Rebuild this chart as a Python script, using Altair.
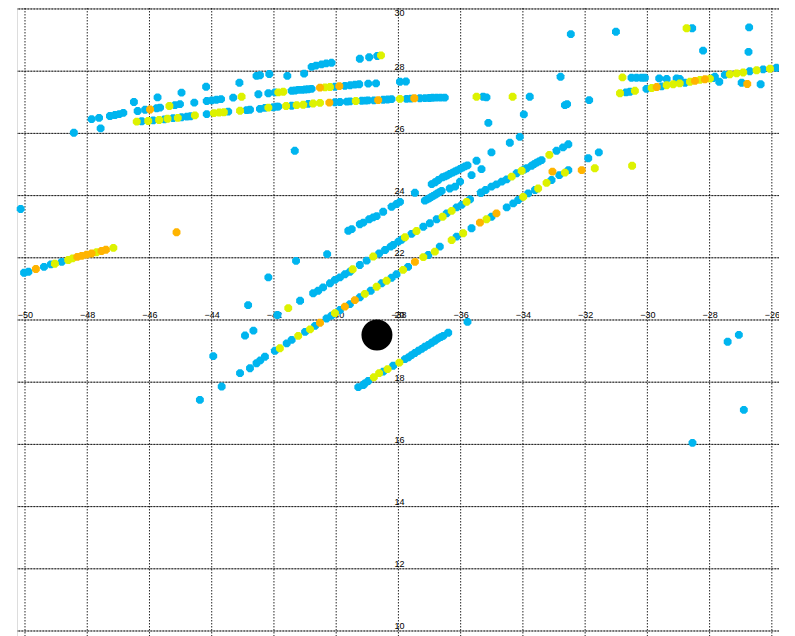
import altair as alt
import pandas as pd

# ---- tick values ----
x_ticks = [-50, -48, -46, -44, -42, -40, -38, -36, -34, -32, -30, -28, -26]
y_ticks = [10, 12, 14, 16, 18, 20, 22, 24, 26, 28, 30]

# ---- cyan points ----
cyan_x = [
    -50.14, -50.03, -49.89, -49.39, -49.17, -48.82,
    -48.43, -47.86, -47.62, -47.57, -47.27, -47.11, -46.97, -46.84, -46.50, -46.38, -46.14,
    -45.77, -45.66, -45.74, -45.18, -45.02, -44.97, -44.56, -44.18, -44.16, -44.00, -43.85,
    -43.70, -43.31, -43.11, -42.56, -42.45, -42.15, -42.50, -42.18,
    -46.25, -45.88, -45.52, -45.24, -44.97, -44.80, -44.68, -44.16, -43.47, -42.88, -42.77,
    -42.45, -42.29, -42.02, -41.86,
    -41.97, -41.43, -41.32, -41.22, -41.10, -41.00, -40.90, -40.79, -40.04, -39.72, -39.55,
    -39.40, -39.26, -38.97, -38.72, -37.95, -37.76,
    -41.57, -41.03, -40.79, -40.65, -40.47, -40.32, -40.15, -39.24, -38.94, -38.68,
    -41.91, -41.43, -40.90, -40.04, -39.88, -39.66, -39.55, -39.18, -39.05, -38.97, -38.79,
    -38.49, -38.35, -38.22, -37.74, -37.60, -37.31, -37.15, -37.01, -36.90, -36.77, -36.64,
    -36.51, -35.28, -35.17,
    -35.11, -33.78, -33.97, -34.10, -32.79, -32.65, -32.58, -32.46, -31.87, -31.01, -41.33,
    -28.56, -26.73, -28.21, -26.75,
    -30.51, -30.35, -30.19, -30.08,
    -30.69, -30.56, -30.03, -29.54, -28.79, -27.89,
    -29.62, -29.38, -29.06, -28.96, -27.69, -27.83,
    -27.51, -26.71, -26.28, -25.85, -26.97, -26.36,
    -39.61, -39.50, -39.24, -39.13, -38.94, -38.81, -38.70, -38.49, -38.22, -38.06, -37.95,
    -37.47, -37.15, -37.08, -37.01, -36.95, -36.88, -36.81, -36.75, -36.68, -36.61, -36.35,
    -36.18, -36.02, -36.93, -36.82, -36.72, -36.58, -36.50, -36.43, -36.35, -36.26, -36.18,
    -36.11, -36.02, -35.94, -35.86, -35.78, -35.65, -35.49, -35.33, -35.35, -35.01, -34.42,
    -42.18, -41.29, -40.29, -42.83, -42.93, -42.66, -43.68, -41.89, -43.95, -44.38,
    -35.78, -27.42, -27.06, -26.90, -28.55,
    -41.16, -40.74, -40.58, -40.42, -40.20, -40.04, -39.88, -39.72, -39.56, -39.24, -39.02,
    -38.62, -38.43, -38.25, -38.17, -38.00, -37.90, -37.58, -37.20, -36.99, -36.77,
    -36.45, -36.13, -35.97, -35.70, -35.35, -35.20, -35.01, -34.85, -34.68, -34.52, -34.20,
    -33.96, -33.88, -33.72, -33.64, -33.56, -33.48, -33.40, -32.92, -32.71, -32.54,
    -43.09, -42.77, -42.56, -42.44, -42.29, -41.97, -41.59, -41.43, -41.00, -40.68, -40.31,
    -40.15, -39.88, -39.56, -39.24, -38.89, -38.54, -38.22, -38.06, -37.69, -37.04, -36.67,
    -36.13, -35.65, -35.01, -34.52, -34.31, -34.15, -33.83, -33.61, -33.08, -32.83, -32.54,
    -31.90, -31.56,
    -39.29, -39.13, -39.08, -38.97, -38.49, -38.17, -37.79, -37.68, -37.58, -37.47, -37.36,
    -37.25, -37.15, -37.04, -36.93, -36.82, -36.72, -36.64, -36.56, -36.40,
]
cyan_y = [
    23.57, 21.52, 21.55, 21.71, 21.79, 21.87,
    26.02, 26.46, 26.50, 26.16, 26.56, 26.59, 26.62, 26.66, 27.01, 26.72, 26.76,
    26.81, 26.83, 27.16, 26.91, 26.94, 27.31, 26.99, 27.50, 27.04, 27.06, 27.08,
    27.10, 27.15, 27.63, 27.85, 27.87, 27.91, 27.26, 27.29,
    26.39, 26.42, 26.45, 26.49, 26.52, 26.54, 26.55, 26.62, 26.70, 26.75, 26.76,
    26.79, 26.82, 26.84, 26.86,
    27.32, 27.37, 27.38, 27.40, 27.40, 27.41, 27.42, 27.43, 27.50, 27.53, 27.55,
    27.57, 27.58, 27.60, 27.61, 27.66, 27.67,
    27.85, 27.92, 28.14, 28.18, 28.22, 28.25, 28.27, 28.40, 28.45, 28.49,
    26.86, 26.89, 26.95, 27.00, 27.01, 27.02, 27.03, 27.05, 27.055, 27.06, 27.06,
    27.08, 27.09, 27.10, 27.11, 27.12, 27.13, 27.135, 27.14, 27.145, 27.15, 27.15,
    27.15, 27.18, 27.16,
    26.34, 27.18, 26.61, 25.89, 27.82, 26.91, 26.94, 29.19, 27.07, 29.27, 25.44,
    29.38, 29.41, 28.66, 28.62,
    27.79, 27.79, 27.79, 27.79,
    27.32, 27.34, 27.43, 27.51, 27.63, 27.78,
    27.77, 27.75, 27.77, 27.75, 27.66, 27.82,
    27.88, 28.00, 28.06, 28.11, 27.63, 27.58,
    22.87, 22.92, 23.08, 23.13, 23.24, 23.30, 23.34, 23.48, 23.64, 23.73, 23.80,
    24.09, 23.84, 23.88, 23.91, 23.95, 23.99, 24.03, 24.07, 24.11, 24.15, 24.23,
    24.29, 24.45, 24.37, 24.43, 24.50, 24.59, 24.62, 24.65, 24.70, 24.74, 24.78,
    24.81, 24.86, 24.90, 24.94, 24.97, 24.66, 25.12, 24.85, 24.09, 25.39, 25.70,
    21.37, 21.90, 22.12, 20.48, 19.50, 19.66, 17.86, 20.16, 18.84, 17.43,
    19.94, 19.30, 19.52, 17.11, 16.05,
    20.62, 20.86, 20.94, 21.05, 21.18, 21.29, 21.37, 21.47, 21.55, 21.77, 21.91,
    22.14, 22.25, 22.36, 22.41, 22.52, 22.58, 22.77, 23.00, 23.11, 23.24,
    23.43, 23.62, 23.70, 23.88, 24.09, 24.18, 24.29, 24.36, 24.45, 24.52, 24.72,
    24.84, 24.88, 24.96, 25.01, 25.06, 25.10, 25.14, 25.44, 25.55, 25.65,
    18.29, 18.45, 18.61, 18.70, 18.82, 19.01, 19.25, 19.36, 19.62, 19.81, 20.05,
    20.14, 20.32, 20.51, 20.73, 20.94, 21.18, 21.36, 21.47, 21.71, 22.09, 22.36,
    22.68, 22.95, 23.32, 23.62, 23.75, 23.86, 24.07, 24.18, 24.50, 24.66, 24.82,
    25.20, 25.39,
    17.84, 17.91, 17.96, 18.04, 18.34, 18.53, 18.74, 18.80, 18.87, 18.94, 19.01,
    19.07, 19.14, 19.20, 19.27, 19.34, 19.41, 19.45, 19.49, 19.59,
]

# ---- yellow points ----
yellow_x = [
    -49.04, -48.61, -48.47, -47.70, -47.16,
    -45.36, -43.04, -41.86, -41.70, -40.36, -40.20, -38.56,
    -46.41, -46.04, -45.69, -45.42, -45.09, -44.54, -43.93, -43.76, -43.61, -43.09, -42.18,
    -41.61, -41.27, -41.06, -40.74, -40.52, -39.37, -37.95, -35.49, -34.33,
    -28.74, -30.80, -30.88, -30.40, -29.86, -29.38, -29.17, -28.96, -28.63, -28.31, -27.99,
    -27.35, -27.13, -26.92, -26.49, -26.06,
    -41.54, -39.47, -38.81, -37.79, -37.42, -36.58, -36.29, -35.81, -34.36, -34.04, -33.15,
    -41.81, -41.22, -40.84, -40.04, -39.08, -38.70, -38.38, -37.85, -37.20, -36.83, -36.29,
    -35.92, -35.17, -33.99, -33.51, -33.24, -32.65, -31.69, -30.49,
    -38.79, -38.62, -38.35, -37.97,
]
yellow_y = [
    21.81, 21.93, 21.98, 22.18, 22.32,
    26.88, 27.18, 27.32, 27.34, 27.48, 27.49, 28.51,
    26.38, 26.40, 26.43, 26.47, 26.50, 26.58, 26.65, 26.67, 26.68, 26.73, 26.83,
    26.88, 26.91, 26.92, 26.96, 26.98, 27.04, 27.11, 27.18, 27.18,
    29.38, 27.80, 27.29, 27.37, 27.46, 27.55, 27.58, 27.61, 27.66, 27.72, 27.76,
    27.90, 27.93, 27.96, 28.03, 28.08,
    20.38, 21.63, 22.04, 22.66, 22.86, 23.32, 23.51, 23.80, 24.61, 24.80, 25.31,
    19.09, 19.49, 19.70, 20.22, 20.84, 21.07, 21.26, 21.61, 22.02, 22.20, 22.57,
    22.79, 23.24, 23.96, 24.23, 24.41, 24.74, 24.88, 24.96,
    18.16, 18.29, 18.42, 18.63,
]

# ---- orange points ----
orange_x = [
    -49.65, -48.32, -48.18, -48.02, -47.86, -47.54, -47.40, -45.13,
    -45.98, -40.52, -39.90, -40.22, -38.65, -37.49,
    -29.70, -28.47, -28.15, -26.79,
    -40.52, -39.72, -39.40, -37.47, -35.38, -34.85, -33.05, -32.11,
]
orange_y = [
    21.64, 22.03, 22.06, 22.10, 22.14, 22.22, 22.26, 22.82,
    26.77, 27.47, 27.52, 26.99, 27.07, 27.13,
    27.49, 27.69, 27.74, 27.59,
    19.91, 20.43, 20.64, 21.87, 23.13, 23.43, 24.77, 24.82,
]

# ---- big black marker ----
circle_x = [-38.69]
circle_y = [19.52]

cat_names = ["cyan", "yellow", "orange"]
cat_colors = ["#00B5EF", "#DDF200", "#FFB400"]

pts = pd.concat([
    pd.DataFrame({"lon": cyan_x, "lat": cyan_y, "c": "cyan"}),
    pd.DataFrame({"lon": yellow_x, "lat": yellow_y, "c": "yellow"}),
    pd.DataFrame({"lon": orange_x, "lat": orange_y, "c": "orange"}),
], ignore_index=True)

xs = alt.Scale(domain=[-50.257, -25.77], zero=False, nice=False)
ys = alt.Scale(domain=[9.807, 30.032], zero=False, nice=False)

W, H = 762, 629
x_axis_offset = -312   # puts x labels on the y=20 line
y_axis_offset = -380   # puts y labels on the x=-38 line

x_axis = alt.Axis(
    orient="top", offset=x_axis_offset, values=x_ticks, grid=False, domain=False,
    ticks=False, tickSize=0, labelPadding=1, labelFontSize=9, labelFont="Liberation Sans",
    labelColor="#000000", labelOverlap=False, labelFlush=False, labelBound=False,
    labelBaseline="bottom", title=None)
y_axis = alt.Axis(
    orient="right", offset=y_axis_offset, values=y_ticks, grid=False, domain=False,
    ticks=False, tickSize=0, labelPadding=0, labelAlign="center",
    labelBaseline={"condition": {"test": "datum.value >= 30", "value": "top"}, "value": "bottom"},
    labelFontSize=9, labelFont="Liberation Sans", labelColor="#000000",
    labelOverlap=False, labelFlush=False, labelBound=False, title=None)

vgrid = alt.Chart(pd.DataFrame({"lon": x_ticks})).mark_rule(
    color="#000000", strokeWidth=1, strokeDash=[1.5, 1.5], opacity=0.85
).encode(x=alt.X("lon:Q", scale=xs, axis=x_axis))

hgrid_solid = alt.Chart(pd.DataFrame({"lat": y_ticks})).mark_rule(
    color="#8a8a8a", strokeWidth=1
).encode(y=alt.Y("lat:Q", scale=ys, axis=y_axis))

hgrid_dot = alt.Chart(pd.DataFrame({"lat": y_ticks})).mark_rule(
    color="#000000", strokeWidth=1, strokeDash=[1.5, 1.5], opacity=0.8
).encode(y=alt.Y("lat:Q", scale=ys, axis=y_axis))

octagon = "M-0.42,-1L0.42,-1L1,-0.42L1,0.42L0.42,1L-0.42,1L-1,0.42L-1,-0.42Z"

points = alt.Chart(pts).mark_point(
    shape=octagon, filled=True, size=62, opacity=1, strokeWidth=0
).encode(
    x=alt.X("lon:Q", scale=xs, axis=x_axis),
    y=alt.Y("lat:Q", scale=ys, axis=y_axis),
    color=alt.Color("c:N", scale=alt.Scale(domain=cat_names, range=cat_colors), legend=None),
)

big = alt.Chart(pd.DataFrame({"lon": circle_x, "lat": circle_y})).mark_circle(
    color="#000000", size=960, opacity=1
).encode(x=alt.X("lon:Q", scale=xs, axis=x_axis), y=alt.Y("lat:Q", scale=ys, axis=y_axis))

chart = alt.layer(hgrid_solid, hgrid_dot, vgrid, points, big).properties(
    width=W, height=H,
    autosize=alt.AutoSizeParams(type="none"),
    padding={"left": 9, "top": 0, "right": 0, "bottom": 0},
).configure_view(stroke="#9a9a9a", strokeWidth=1.5).configure(background="white")

chart.save("out.html", embed_options={"renderer": "svg", "actions": False})
